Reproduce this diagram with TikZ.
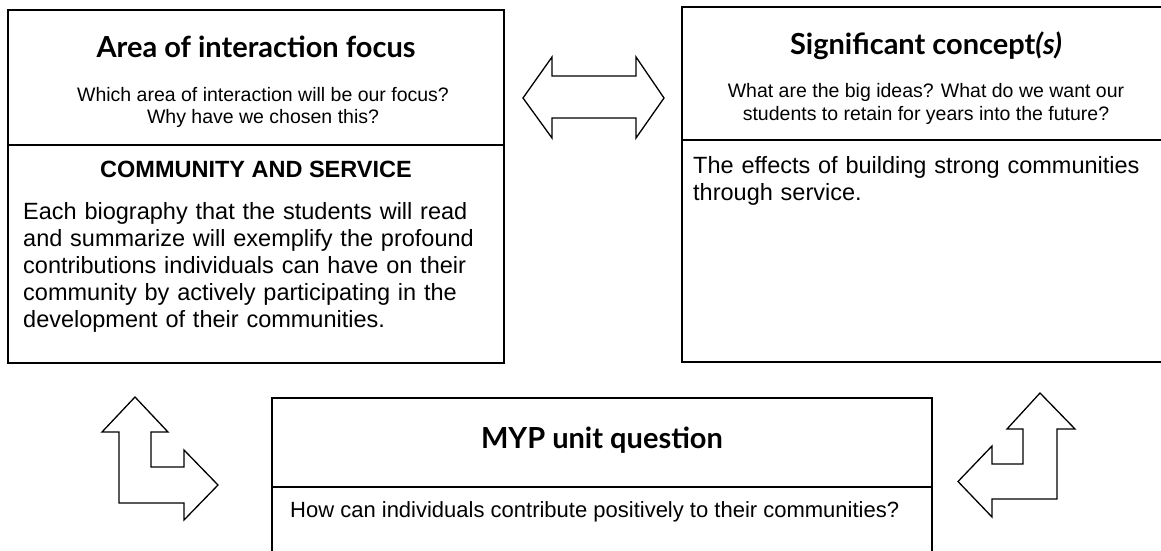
\documentclass[tikz,border=0pt]{standalone}
\usepackage{fontspec}
\setmainfont{Liberation Sans}
\newfontfamily\titlefont{Lato}
\begin{document}
\begin{tikzpicture}[x=1pt,y=-1pt,
  box/.style={draw, line width=1.4pt, inner sep=0pt},
  divider/.style={draw, line width=1.4pt},
  blockarrow/.style={draw, line width=1.3pt, line join=miter, fill=white},
  ttl/.style={anchor=base, inner sep=0pt, font=\titlefont\bfseries\fontsize{29}{34}\selectfont},
  ask/.style={anchor=base, inner sep=0pt, font=\fontsize{19.5}{22.5}\selectfont},
  body/.style={anchor=base west, inner sep=0pt, align=left, text width=470pt,
    font=\fontsize{23.5}{27}\selectfont},
]
\useasboundingbox (0,0) rectangle (1161,550);
\clip (0,0) rectangle (1161,550);

% the three panels
\node[box, minimum width=496pt, minimum height=353pt] (focus) at (256,186.5) {};
\node[box, minimum width=488pt, minimum height=355pt] (concept) at (926,184.5) {};
\node[box, minimum width=660pt, minimum height=162pt] (unit) at (602,479) {};

% header / content separators
\coordinate (fdiv) at (0,145);
\coordinate (cdiv) at (0,140);
\coordinate (udiv) at (0,487);
\draw[divider] (focus.west |- fdiv) -- (focus.east |- fdiv);
\draw[divider] (concept.west |- cdiv) -- (concept.east |- cdiv);
\draw[divider] (unit.west |- udiv) -- (unit.east |- udiv);

% area of interaction panel
\node[ttl] (focusT) at (256,57) {Area of interaction focus};
\node[ask] (focusQ1) at (263,101) {Which area of interaction will be our focus?};
\node[ask] (focusQ2) at (263,123) {Why have we chosen this?};
\node[anchor=base, inner sep=0pt, font=\bfseries\fontsize{23.5}{27}\selectfont]
  (focusH) at (256,177) {COMMUNITY AND SERVICE};
\node[body] (focusB) at (23,219) {Each biography that the students will read\\
and summarize will exemplify the profound\\
contributions individuals can have on their\\
community by actively participating in the\\
development of their communities.};

% significant concept panel
\node[ttl] (conceptT) at (926,54) {Significant concept{\itshape(s)}};
\node[ask] (conceptQ1) at (926,97) {What are the big ideas? What do we want our};
\node[ask] (conceptQ2) at (926,120) {students to retain for years into the future?};
\node[body] (conceptB) at (693,173) {The effects of building strong communities\\
through service.};

% unit question panel
\node[ttl] (unitT) at (602,448) {MYP unit question};
\node[anchor=base west, inner sep=0pt, font=\fontsize{22}{26}\selectfont]
  (unitB) at (290,517) {How can individuals contribute positively to their communities?};

% block arrows between the panels
\draw[blockarrow] (523,98) -- (552,57) -- (552,76) -- (636,76) -- (636,57) -- (664,98)
  -- (636,138) -- (636,118) -- (552,118) -- (552,138) -- cycle;
\draw[blockarrow] (135,397) -- (168,432) -- (151,432) -- (151,467) -- (184,467)
  -- (184,450) -- (218,485) -- (184,520) -- (184,503) -- (119,503) -- (119,432)
  -- (102,432) -- cycle;
\draw[blockarrow] (1040,393) -- (1075,429) -- (1057,429) -- (1057,499) -- (992,499)
  -- (992,517) -- (958,481.5) -- (992,446) -- (992,464) -- (1023,464) -- (1023,429)
  -- (1007,429) -- cycle;
\end{tikzpicture}
\end{document}
